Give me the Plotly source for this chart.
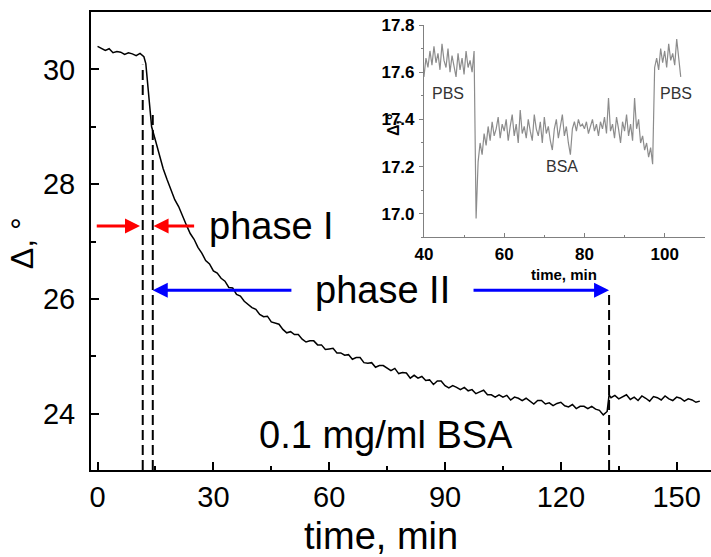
import plotly.graph_objects as go

FONT = "Liberation Sans, Arial, sans-serif"

# ---------------- data: main trace (time, min ; Delta, deg) ----------------
t_main = list(range(0, 13)) + [12.5, 13, 13.5] + list(range(14, 133)) + [132.5] + list(range(133, 157))
v_main = [
    30.40, 30.37, 30.33, 30.36, 30.29, 30.31, 30.30, 30.26, 30.29, 30.27, 30.24, 30.28, 30.22,
    30.10, 29.70, 29.25,
    29.00, 28.76, 28.50, 28.27, 28.08, 27.91, 27.73, 27.61, 27.44, 27.29,
    27.14, 27.04, 26.90, 26.80, 26.67, 26.61, 26.49, 26.45, 26.36, 26.31,
    26.20, 26.19, 26.08, 26.05, 25.96, 25.91, 25.85, 25.82, 25.73, 25.69,
    25.70, 25.60, 25.58, 25.56, 25.47, 25.41, 25.43, 25.38, 25.38, 25.30,
    25.25, 25.27, 25.27, 25.20, 25.20, 25.12, 25.13, 25.14, 25.06, 25.06,
    25.02, 25.03, 24.95, 24.98, 24.98, 24.89, 24.88, 24.89, 24.81, 24.84,
    24.84, 24.79, 24.75, 24.79, 24.70, 24.72, 24.71, 24.62, 24.67, 24.62,
    24.65, 24.58, 24.59, 24.51, 24.57, 24.57, 24.49, 24.45, 24.49, 24.46,
    24.42, 24.46, 24.40, 24.42, 24.35, 24.38, 24.41, 24.33, 24.33, 24.29,
    24.33, 24.29, 24.32, 24.24, 24.29, 24.27, 24.23, 24.27, 24.22, 24.17,
    24.23, 24.23, 24.17, 24.19, 24.14, 24.18, 24.20, 24.14, 24.12, 24.16,
    24.09, 24.13, 24.13, 24.09, 24.13, 24.08, 24.06, 23.98, 24.04,
    24.33,
    24.28, 24.32, 24.26, 24.30, 24.33, 24.25, 24.29, 24.23, 24.31, 24.27,
    24.22, 24.30, 24.28, 24.24, 24.31, 24.26, 24.23, 24.29, 24.27, 24.22,
    24.26, 24.24, 24.20, 24.22,
]

# phase boundaries (dashed lines): time and the level they rise to
phase_t = [11.7, 14.3, 132.5]
phase_top = [30.08, 29.24, 26.15]

# arrows: level, tails, heads (time)
red_level = 27.27
red_tails = [-0.6, 25.4]
red_heads = [11.0, 14.5]
blue_level = 26.15
blue_tails = [50.6, 97.0]
blue_heads = [14.3, 132.5]

main_texts = ["phase I", "phase II", "0.1 mg/ml BSA"]

# ---------------- data: inset trace ----------------
v_inset = [
    17.58, 17.66, 17.62, 17.69, 17.63, 17.71, 17.64, 17.68, 17.61, 17.72,
    17.65, 17.62, 17.70, 17.60, 17.67, 17.63, 17.58, 17.68, 17.61, 17.66,
    17.59, 17.69, 17.62, 17.65, 17.60, 17.69, 16.98, 17.22, 17.30, 17.25,
    17.34, 17.29, 17.37, 17.31, 17.39, 17.33, 17.36, 17.41, 17.32, 17.38,
    17.35, 17.40, 17.31, 17.37, 17.42, 17.33, 17.38, 17.30, 17.44, 17.34,
    17.37, 17.32, 17.40, 17.35, 17.31, 17.42, 17.36, 17.33, 17.39, 17.30,
    17.41, 17.34, 17.37, 17.31, 17.27, 17.36, 17.40, 17.32, 17.38, 17.42,
    17.33, 17.37, 17.30, 17.25, 17.36, 17.39, 17.35, 17.40, 17.37, 17.38,
    17.36, 17.39, 17.34, 17.37, 17.40, 17.35, 17.38, 17.33, 17.39, 17.36,
    17.41, 17.34, 17.49, 17.35, 17.38, 17.32, 17.41, 17.36, 17.30, 17.39,
    17.35, 17.42, 17.33, 17.38, 17.31, 17.49, 17.36, 17.40, 17.30, 17.33,
    17.27, 17.30, 17.24, 17.28, 17.21, 17.62, 17.66, 17.61, 17.70, 17.64,
    17.69, 17.62, 17.72, 17.65, 17.68, 17.63, 17.74, 17.66, 17.58,
]
t_inset = [40 + 0.5 * i for i in range(len(v_inset))]
inset_texts = ["PBS", "BSA", "PBS"]

# ---------------- figure ----------------
XR = [-1.7, 158.9]
YR = [23.02, 31.0]

fig = go.Figure()
fig.add_trace(go.Scatter(x=t_main, y=v_main, mode="lines",
                         line=dict(color="black", width=1.5),
                         xaxis="x", yaxis="y", hoverinfo="skip"))
for t, top in zip(phase_t, phase_top):
    fig.add_trace(go.Scatter(x=[t, t], y=[YR[0], top], mode="lines",
                             line=dict(color="black", width=2, dash="10px,5px"),
                             xaxis="x", yaxis="y", hoverinfo="skip"))
fig.add_trace(go.Scatter(x=t_inset, y=v_inset, mode="lines",
                         line=dict(color="#8c8c8c", width=1.2),
                         xaxis="x2", yaxis="y2", hoverinfo="skip"))

ann = []
for tail, head in zip(red_tails, red_heads):
    ann.append(dict(x=head, y=red_level, ax=tail, ay=red_level, xref="x", yref="y",
                    axref="x", ayref="y", text="", showarrow=True, arrowhead=2,
                    arrowsize=1, arrowwidth=3, arrowcolor="#ff0000", standoff=0))
for tail, head in zip(blue_tails, blue_heads):
    ann.append(dict(x=head, y=blue_level, ax=tail, ay=blue_level, xref="x", yref="y",
                    axref="x", ayref="y", text="", showarrow=True, arrowhead=2,
                    arrowsize=1, arrowwidth=3, arrowcolor="#0000ff", standoff=0))

ann.append(dict(x=28.3, y=red_level, xref="x", yref="y", text=main_texts[0],
                showarrow=False, xanchor="left", yanchor="middle",
                font=dict(family=FONT, size=38, color="black")))
ann.append(dict(x=73.8, y=blue_level, xref="x", yref="y", text=main_texts[1],
                showarrow=False, xanchor="center", yanchor="middle",
                font=dict(family=FONT, size=38, color="black")))
ann.append(dict(x=74.7, y=23.63, xref="x", yref="y", text=main_texts[2],
                showarrow=False, xanchor="center", yanchor="middle",
                font=dict(family=FONT, size=38, color="black")))

# axis titles
ann.append(dict(x=0.4677, y=-0.1441, xref="paper", yref="paper", text="time, min",
                showarrow=False, xanchor="center", yanchor="middle",
                font=dict(family=FONT, size=38, color="black")))
ann.append(dict(x=-0.111, y=0.4956, xref="paper", yref="paper", text="Δ, °",
                showarrow=False, xanchor="center", yanchor="middle", textangle=-90,
                font=dict(family=FONT, size=32, color="black")))
# inset titles
ann.append(dict(x=0.763, y=0.4258, xref="paper", yref="paper", text="time, min",
                showarrow=False, xanchor="center", yanchor="middle",
                font=dict(family=FONT, size=15, color="black", weight="bold")))
ann.append(dict(x=0.487, y=0.753, xref="paper", yref="paper", text="Δ,°",
                showarrow=False, xanchor="center", yanchor="middle", textangle=-90,
                font=dict(family=FONT, size=16, color="black", weight="bold")))
# inset labels
for txt, tx, ty in zip(inset_texts, [46.0, 74.4, 102.8], [17.508, 17.199, 17.51]):
    ann.append(dict(x=tx, y=ty, xref="x2", yref="y2", text=txt, showarrow=False,
                    xanchor="center", yanchor="middle",
                    font=dict(family=FONT, size=16, color="#333333")))

fig.update_layout(
    width=711, height=557, autosize=False,
    margin=dict(l=91, r=0, t=12, b=87, pad=0),
    paper_bgcolor="white", plot_bgcolor="white",
    showlegend=False,
    font=dict(family=FONT, color="black"),
    annotations=ann,
    xaxis=dict(domain=[0, 1], range=XR, showgrid=False, zeroline=False,
               showline=True, linecolor="black", linewidth=2, mirror=True,
               ticks="inside", ticklen=8, tickwidth=1.5, tickcolor="black",
               tick0=0, dtick=30, ticklabelstandoff=0,
               minor=dict(ticks="inside", dtick=15, ticklen=4, tickwidth=1.5, tickcolor="black"),
               tickfont=dict(family=FONT, size=29, color="black")),
    yaxis=dict(domain=[0, 1], range=YR, showgrid=False, zeroline=False,
               showline=True, linecolor="black", linewidth=2, mirror=False,
               ticks="inside", ticklen=8, tickwidth=1.5, tickcolor="black",
               tick0=24, dtick=2, ticklabelstandoff=8,
               minor=dict(ticks="inside", dtick=1, ticklen=5, tickwidth=1.5, tickcolor="black"),
               tickfont=dict(family=FONT, size=29, color="black")),
    xaxis2=dict(domain=[0.537, 0.990], range=[40, 110], anchor="y2",
                showgrid=False, zeroline=False, showline=True, linecolor="#808080",
                linewidth=1, ticks="inside", ticklen=4, tickwidth=1, tickcolor="#808080",
                tick0=40, dtick=20, ticklabelstandoff=1,
                minor=dict(ticks="inside", dtick=10, ticklen=2, tickwidth=1, tickcolor="#808080"),
                tickfont=dict(family=FONT, size=17, color="black", weight="bold")),
    yaxis2=dict(domain=[0.508, 0.9716], range=[16.9, 17.8], anchor="x2",
                showgrid=False, zeroline=False, showline=True, linecolor="#808080",
                linewidth=1, ticks="outside", ticklen=4, tickwidth=1, tickcolor="#808080",
                tick0=17.0, dtick=0.2, tickformat=".1f", ticklabelstandoff=1,
                minor=dict(ticks="outside", dtick=0.1, ticklen=2, tickwidth=1, tickcolor="#808080"),
                tickfont=dict(family=FONT, size=17, color="black", weight="bold")),
)

fig.write_html("out.html")
